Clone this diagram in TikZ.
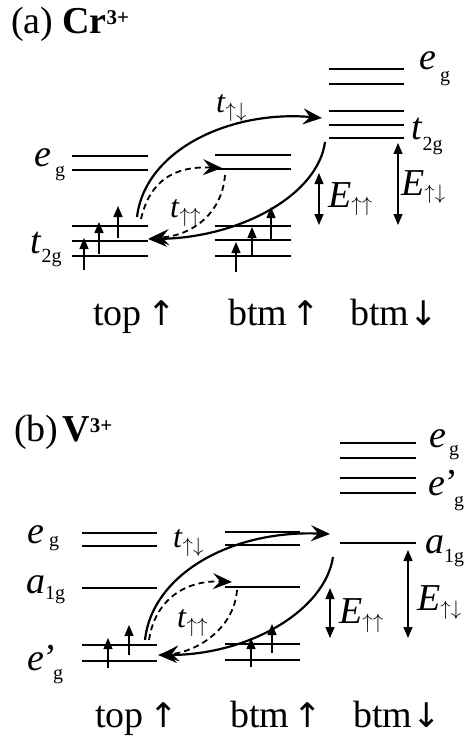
\documentclass[tikz,border=0pt]{standalone}
\usepackage{fontspec}
\setmainfont{Liberation Serif}
\newfontfamily\arrowfont{DejaVu Sans}
\usetikzlibrary{arrows.meta,positioning}
\tikzset{
  every node/.style={inner sep=0pt, font=\fontsize{38}{38}\selectfont},
  lab/.style={anchor=base west},
  ttl/.style={lab, font=\fontsize{38}{38}\selectfont},
  hoplab/.style={lab, font=\fontsize{32}{32}\selectfont},
  level/.style={line width=1.3pt},
  spin/.style={line width=1.3pt, -{Triangle[length=11pt,width=9pt]}},
  hop/.style={line width=2.2pt, -{Stealth[length=19pt,width=16pt,inset=7pt]}},
  hopdash/.style={hop, line width=1.8pt, dash pattern=on 6pt off 4pt},
  gaparrow/.style={line width=1.3pt, {Triangle[length=11pt,width=9pt]}-{Triangle[length=11pt,width=9pt]}},
}
\newcommand{\lvsub}[2][8pt]{\raisebox{-#1}{\fontsize{20}{20}\selectfont #2}}
\newcommand{\spinsub}[1]{\raisebox{-5pt}{\fontsize{21}{21}\selectfont $#1$}}
\newcommand{\chg}[1]{\raisebox{9pt}{\fontsize{21}{21}\selectfont\bfseries #1}}
\newcommand{\bigup}{{\arrowfont\fontsize{34}{34}\selectfont ↑}}
\newcommand{\bigdown}{{\arrowfont\fontsize{34}{34}\selectfont ↓}}

\begin{document}
\begin{tikzpicture}[x=1pt,y=-1pt]
\useasboundingbox (0,0) rectangle (464,738);
% (a) Cr3+
\node[ttl] (ttlA) at (11,34) {(a)\hspace{9pt}\textbf{Cr}\chg{3+}};
\foreach \y in {156,170,226,241,256} \draw[level] (72,\y) -- (148,\y);
\foreach \y in {155,169,226,240,256} \draw[level] (215,\y) -- (291,\y);
\foreach \y in {69,84,111,125,138} \draw[level] (329,\y) -- (404,\y);
\foreach \x/\ya/\yb in {84/270/238, 99/254/222, 118/238/206, 236/272/242, 252/256/227, 271/239/207}
  \draw[spin] (\x,\ya) -- (\x,\yb);
\node[lab] (aLeg) at (34,167) {\textit{e}\hspace{4pt}\lvsub[10pt]{g}};
\node[lab] (aLt) at (30,253) {\textit{t}\lvsub[9pt]{2g}};
\node[lab] (aReg) at (419,70) {\textit{e}\hspace{4pt}\lvsub[12pt]{g}};
\node[lab] (aRt) at (411,140) {\textit{t}\lvsub[11pt]{2g}};
\coordinate (aS1) at (137,217); \coordinate (aE1) at (322,118);
\coordinate (aS2) at (325,142); \coordinate (aE2) at (148,239);
\coordinate (aS3) at (141,219); \coordinate (aE3) at (222,168);
\coordinate (aS4) at (225,175); \coordinate (aE4) at (150,238);
\draw[hop] (aS1) .. controls (145,150) and (230,110) .. (aE1);
\draw[hop] (aS2) .. controls (318,195) and (240,238) .. (aE2);
\draw[hopdash] (aS3) .. controls (150,180) and (175,166) .. (aE3);
\draw[hopdash] (aS4) .. controls (222,215) and (190,236) .. (aE4);
\node[hoplab] (aTud) at (216,113) {\textit{t}\spinsub{\uparrow\downarrow}};
\node[hoplab] (aTuu) at (170,217) {\textit{t}\spinsub{\uparrow\uparrow}};
\coordinate (aG1t) at (319,173); \coordinate (aG1b) at (319,225);
\coordinate (aG2t) at (398,143); \coordinate (aG2b) at (398,225);
\draw[gaparrow] (aG1t) -- (aG1b);
\draw[gaparrow] (aG2t) -- (aG2b);
\node[lab] (aEuu) at (328,207) {\textit{E}\spinsub{\uparrow\uparrow}};
\node[lab] (aEud) at (401,195) {\textit{E}\spinsub{\uparrow\downarrow}};
\node[lab] (aTop) at (93,325) {top\hspace{6pt}\bigup};
\node[lab] (aBtmU) at (228,325) {btm\hspace{4pt}\bigup};
\node[lab] (aBtmD) at (350,325) {btm\bigdown};
% (b) V3+
\node[ttl] (ttlB) at (14,441) {(b)\hspace{4pt}\textbf{V}\chg{3+}};
\foreach \y in {533,546,588,645,661} \draw[level] (82,\y) -- (157,\y);
\foreach \y in {532,545,587,644,660} \draw[level] (225,\y) -- (300,\y);
\foreach \y in {443,458,478,493,543} \draw[level] (340,\y) -- (416,\y);
\foreach \x/\ya/\yb in {108/668/638, 129/655/625, 251/667/638, 272/653/624}
  \draw[spin] (\x,\ya) -- (\x,\yb);
\node[lab] (bLeg) at (27,543) {\textit{e}\hspace{5pt}\lvsub[3pt]{g}};
\node[lab] (bLa) at (26,593) {\textit{a}\lvsub[6pt]{1g}};
\node[lab] (bLep) at (27,670) {\textit{e}\rlap{’}\hspace{9pt}\lvsub[9pt]{g}};
\node[lab] (bReg) at (429,447) {\textit{e}\hspace{3pt}\lvsub[8pt]{g}};
\node[lab] (bRep) at (428,495) {\textit{e}\rlap{’}\hspace{9pt}\lvsub[11pt]{g}};
\node[lab] (bRa) at (425,553) {\textit{a}\lvsub[9pt]{1g}};
\coordinate (bS1) at (145,640); \coordinate (bE1) at (330,534);
\coordinate (bS2) at (333,557); \coordinate (bE2) at (158,655);
\coordinate (bS3) at (149,640); \coordinate (bE3) at (232,582);
\coordinate (bS4) at (237,590); \coordinate (bE4) at (160,655);
\draw[hop] (bS1) .. controls (152,575) and (230,530) .. (bE1);
\draw[hop] (bS2) .. controls (325,610) and (250,655) .. (bE2);
\draw[hopdash] (bS3) .. controls (155,600) and (185,580) .. (bE3);
\draw[hopdash] (bS4) .. controls (234,630) and (195,652) .. (bE4);
\node[hoplab] (bTud) at (173,547) {\textit{t}\spinsub{\uparrow\downarrow}};
\node[hoplab] (bTuu) at (177,627) {\textit{t}\spinsub{\uparrow\uparrow}};
\coordinate (bG1t) at (330,588); \coordinate (bG1b) at (330,638);
\coordinate (bG2t) at (408,550); \coordinate (bG2b) at (408,638);
\draw[gaparrow] (bG1t) -- (bG1b);
\draw[gaparrow] (bG2t) -- (bG2b);
\node[lab] (bEuu) at (339,623) {\textit{E}\spinsub{\uparrow\uparrow}};
\node[lab] (bEud) at (417,610) {\textit{E}\spinsub{\uparrow\downarrow}};
\node[lab] (bTop) at (95,727) {top\hspace{6pt}\bigup};
\node[lab] (bBtmU) at (230,727) {btm\hspace{4pt}\bigup};
\node[lab] (bBtmD) at (353,727) {btm\bigdown};
\end{tikzpicture}
\end{document}
